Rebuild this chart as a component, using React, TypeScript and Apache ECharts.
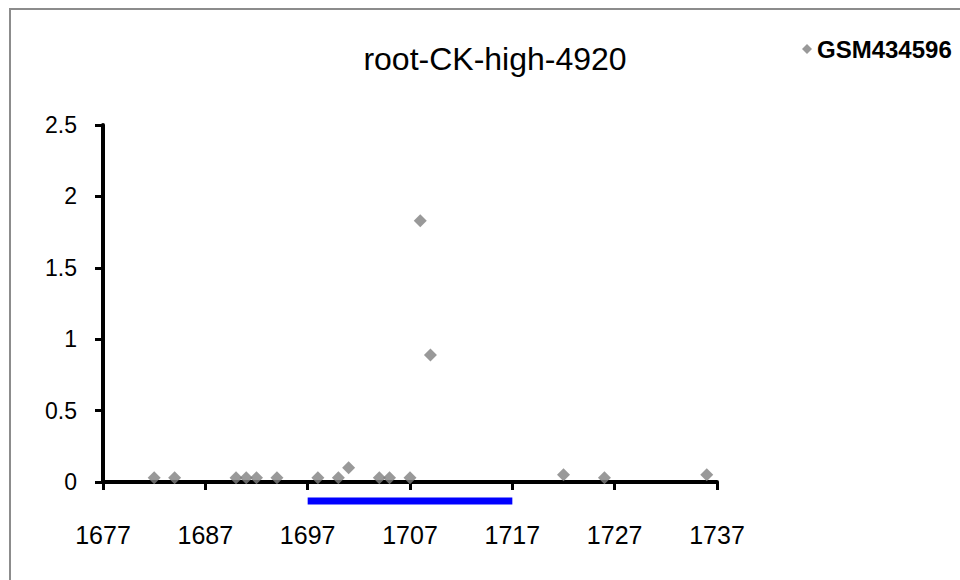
import React, { useEffect, useRef } from "react";
import * as echarts from "echarts";

const seriesName = "GSM434596";
const xPositions = [1682, 1684, 1690, 1691, 1692, 1694, 1698, 1700, 1701, 1704, 1705, 1707, 1708, 1709, 1722, 1726, 1736];
const yValues = [0.03, 0.03, 0.03, 0.03, 0.03, 0.03, 0.03, 0.03, 0.1, 0.03, 0.03, 0.03, 1.83, 0.89, 0.05, 0.03, 0.05];
const regionStart = 1697;
const regionEnd = 1717;
const titleText = "root-CK-high-4920";

const FONT = "'Liberation Sans', Arial, sans-serif";

export default function App() {
  const ref = useRef<HTMLDivElement>(null);
  useEffect(() => {
    if (!ref.current) return;
    const chart = echarts.init(ref.current, undefined, { renderer: "svg" });
    const points = xPositions.map((x, i) => [x, yValues[i]]);
    chart.setOption({
      animation: false,
      backgroundColor: "#ffffff",
      title: {
        text: titleText,
        left: 490,
        top: 38,
        textAlign: "center",
        textStyle: { fontFamily: FONT, fontSize: 32, fontWeight: "normal", color: "#000" },
      },
      legend: {
        data: [seriesName],
        left: 797,
        top: 32,
        itemWidth: 10,
        itemHeight: 10,
        itemGap: 4,
        textStyle: { fontFamily: FONT, fontSize: 24, fontWeight: "bold", color: "#000" },
      },
      graphic: [
        {
          type: "rect",
          shape: { x: 10, y: 9, width: 960, height: 600 },
          style: { fill: "none", stroke: "#8c8c8c", lineWidth: 2 },
          z: -1,
        },
      ],
      grid: { left: 103, right: 243, top: 125, bottom: 98, containLabel: false },
      xAxis: {
        type: "value",
        min: 1677,
        max: 1737,
        interval: 10,
        splitLine: { show: false },
        axisLine: { show: true, onZero: false, lineStyle: { color: "#000", width: 4 } },
        axisTick: { show: true, length: 8, lineStyle: { color: "#000", width: 3 } },
        axisLabel: {
          margin: 40,
          fontFamily: FONT,
          fontSize: 25,
          color: "#000",
          formatter: (v: number) => String(v),
        },
      },
      yAxis: {
        type: "value",
        min: 0,
        max: 2.5,
        interval: 0.5,
        splitLine: { show: false },
        axisLine: { show: true, lineStyle: { color: "#000", width: 4 } },
        axisTick: { show: true, length: 8, lineStyle: { color: "#000", width: 3 } },
        axisLabel: {
          margin: 26,
          fontFamily: FONT,
          fontSize: 23,
          color: "#000",
          formatter: (v: number) => String(v),
        },
      },
      series: [
        {
          name: seriesName,
          type: "scatter",
          symbol: "diamond",
          symbolSize: 13,
          itemStyle: { color: "#808080" },
          data: points,
          z: 3,
        },
        {
          name: "region",
          type: "custom",
          clip: false,
          data: [[regionStart, regionEnd]],
          renderItem: (params: any, api: any) => {
            const s = api.coord([api.value(0), 0]);
            const e = api.coord([api.value(1), 0]);
            return {
              type: "line",
              shape: { x1: s[0], y1: s[1] + 19, x2: e[0], y2: e[1] + 19 },
              style: { stroke: "#0000ff", lineWidth: 7 },
            };
          },
        },
      ],
    });
    return () => chart.dispose();
  }, []);
  return <div ref={ref} style={{ width: 960, height: 580, position: "absolute", left: 0, top: 0 }} />;
}
